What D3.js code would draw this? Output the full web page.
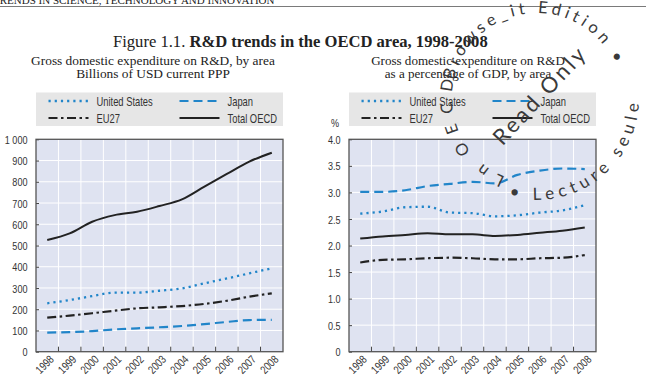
<!DOCTYPE html>
<html>
<head>
<meta charset="utf-8">
<script src="https://cdn.jsdelivr.net/npm/d3@7"></script>
<style>
  body { margin: 0; background: #fff; }
  svg { display: block; }
  .axis text, .legend text, .narrow { font-family: "Liberation Sans", Arial, sans-serif; font-size: 11.5px; fill: #333; }
  .legend text { font-size: 12.5px; }
  .serif { font-family: "Liberation Serif", "DejaVu Serif", serif; fill: #222; }
  .wm { font-family: "Lato", "Open Sans", sans-serif; fill: #3a3a3a; }
</style>
</head>
<body>
<div id="chart"></div>
<script>
var width = 646;
var height = 380;

// data
var years = ["1998", "1999", "2000", "2001", "2002", "2003", "2004", "2005", "2006", "2007", "2008"];
var seriesNames = ["United States", "Japan", "EU27", "Total OECD"];

// billions of USD current PPP
var usBn     = [228, 243, 262, 278, 278, 287, 298, 322, 345, 369, 393];
var japanBn  = [90, 92, 97, 105, 110, 115, 121, 130, 140, 149, 150];
var eu27Bn   = [160, 170, 181, 193, 204, 209, 215, 225, 240, 259, 275];
var oecdBn   = [526, 557, 612, 643, 659, 686, 717, 777, 837, 895, 937];

// percentage of GDP
var usPct    = [2.60, 2.64, 2.72, 2.73, 2.62, 2.61, 2.55, 2.57, 2.62, 2.66, 2.76];
var japanPct = [3.01, 3.01, 3.04, 3.12, 3.16, 3.20, 3.17, 3.33, 3.41, 3.45, 3.44];
var eu27Pct  = [1.68, 1.73, 1.74, 1.76, 1.77, 1.76, 1.74, 1.74, 1.76, 1.77, 1.82];
var oecdPct  = [2.13, 2.17, 2.20, 2.23, 2.21, 2.21, 2.18, 2.20, 2.24, 2.28, 2.34];

var bnTicks  = [0, 100, 200, 300, 400, 500, 600, 700, 800, 900, 1000];
var pctTicks = [0, 0.5, 1.0, 1.5, 2.0, 2.5, 3.0, 3.5, 4.0];

var blue = "#2185c9";
var black = "#222";
var styles = {
  "United States": { color: blue,  dash: "2.2,4",         width: 2.3 },
  "Japan":         { color: blue,  dash: "9,5",           width: 2.2 },
  "EU27":          { color: black, dash: "9,3.5,2.5,3.5", width: 2.2 },
  "Total OECD":    { color: black, dash: null,            width: 2 }
};
// squeeze Arial-like glyphs into a condensed face
var narrowAxis = 0.79;
var narrowLegend = 0.75;

var svg = d3.select("#chart").append("svg")
  .attr("width", width)
  .attr("height", height);

svg.append("rect").attr("width", width).attr("height", height).attr("fill", "#fff");

// shrink/grow font so the text spans a given width
function fit(text, w) {
  var len = text.node().getComputedTextLength();
  var fs = parseFloat(text.attr("font-size"));
  text.attr("font-size", fs * w / len);
}

// running header, cut at the top of the page
svg.append("text").attr("class", "serif")
  .attr("x", -7).attr("y", 4)
  .attr("font-size", 10)
  .attr("fill", "#333")
  .text("TRENDS IN SCIENCE, TECHNOLOGY AND INNOVATION")
  .call(fit, 282);
svg.append("line")
  .attr("x1", 0).attr("x2", width).attr("y1", 6.5).attr("y2", 6.5)
  .attr("stroke", "#7a7a7a").attr("stroke-width", 1);

// figure title
var title = svg.append("text").attr("class", "serif")
  .attr("x", 113).attr("y", 46.5).attr("font-size", 15);
title.append("tspan").text("Figure 1.1.  ");
title.append("tspan").attr("font-weight", "bold").text("R&D trends in the OECD area, 1998-2008");
fit(title, 375);

function drawPanel(opts) {
  var left = opts.left, right = opts.left + 247, top = 139.3, bottom = 351.7;
  var g = svg.append("g");

  // subtitles
  var s1 = g.append("text").attr("class", "serif")
    .attr("x", opts.subX).attr("y", 65).attr("text-anchor", "middle")
    .attr("font-size", 12).text(opts.sub1);
  fit(s1, opts.subW);
  g.append("text").attr("class", "serif")
    .attr("x", opts.subX).attr("y", 78).attr("text-anchor", "middle")
    .attr("font-size", s1.attr("font-size")).text(opts.sub2);

  // legend
  var lg = g.append("g").attr("class", "legend");
  lg.append("rect")
    .attr("x", left).attr("y", 92.5)
    .attr("width", right - left).attr("height", 33.5)
    .attr("fill", "#e6e6e6");
  var spots = [[0, 0], [1, 0], [0, 1], [1, 1]];
  seriesNames.forEach(function(name, i) {
    var cx = left + (spots[i][0] ? 143.5 : 12.5);
    var cy = 101 + spots[i][1] * 17;
    var st = styles[name];
    lg.append("line")
      .attr("x1", cx).attr("x2", cx + 40).attr("y1", cy).attr("y2", cy)
      .attr("stroke", st.color).attr("stroke-width", st.width)
      .attr("stroke-dasharray", st.dash);
    lg.append("text")
      .attr("transform", "translate(" + (cx + 48) + "," + cy + ") scale(" + narrowLegend + ",1)")
      .attr("dy", "0.36em")
      .text(name);
  });

  var x = d3.scaleBand().domain(years).range([left, right]);
  var y = d3.scaleLinear().domain(opts.domain).range([bottom, top]);

  // plot area
  g.append("rect")
    .attr("x", left).attr("y", top)
    .attr("width", right - left).attr("height", bottom - top)
    .attr("fill", "#dfe3f1");

  // grid
  var bounds = years.slice(1).map(function(d) { return x(d); });
  g.selectAll(".vgrid").data(bounds).enter().append("line")
    .attr("x1", function(d) { return d; }).attr("x2", function(d) { return d; })
    .attr("y1", top).attr("y2", bottom)
    .attr("stroke", "#fff").attr("stroke-width", 1);
  g.selectAll(".hgrid").data(opts.ticks.slice(1, -1)).enter().append("line")
    .attr("x1", left).attr("x2", right)
    .attr("y1", function(d) { return y(d); }).attr("y2", function(d) { return y(d); })
    .attr("stroke", "#fff").attr("stroke-width", 1);

  // bottom ticks on the band edges
  g.selectAll(".xtick").data(bounds).enter().append("line")
    .attr("x1", function(d) { return d; }).attr("x2", function(d) { return d; })
    .attr("y1", bottom).attr("y2", bottom - 5)
    .attr("stroke", "#444").attr("stroke-width", 1);

  // y axis
  var yAxis = d3.axisLeft(y).tickValues(opts.ticks).tickFormat(opts.format)
    .tickSizeInner(-3).tickSizeOuter(0).tickPadding(8);
  var ya = g.append("g").attr("class", "axis")
    .attr("transform", "translate(" + left + ",0)")
    .call(yAxis);
  ya.select(".domain").remove();
  ya.selectAll(".tick line").attr("stroke", "#444");
  ya.selectAll(".tick text")
    .attr("x", -8.5 / narrowAxis)
    .attr("dy", "0.36em")
    .attr("transform", "scale(" + narrowAxis + ",1)");

  // x axis labels
  var xAxis = d3.axisBottom(x).tickSize(0).tickPadding(0);
  var xa = g.append("g").attr("class", "axis")
    .attr("transform", "translate(0," + bottom + ")")
    .call(xAxis);
  xa.select(".domain").remove();
  xa.selectAll(".tick text")
    .attr("y", 0).attr("dy", "0.36em")
    .attr("text-anchor", "end")
    .attr("transform", "translate(4.5,5.5) rotate(-45) scale(" + narrowAxis + ",1)");

  // series
  var line = d3.line()
    .x(function(d, i) { return x(years[i]) + x.bandwidth() / 2; })
    .y(function(d) { return y(d); })
    .curve(d3.curveMonotoneX);
  seriesNames.forEach(function(name, i) {
    var st = styles[name];
    g.append("path")
      .datum(opts.series[i])
      .attr("d", line)
      .attr("fill", "none")
      .attr("stroke", st.color)
      .attr("stroke-width", st.width)
      .attr("stroke-dasharray", st.dash);
  });

  // frame
  g.append("rect")
    .attr("x", left).attr("y", top)
    .attr("width", right - left).attr("height", bottom - top)
    .attr("fill", "none").attr("stroke", "#555").attr("stroke-width", 1.3);

  return g;
}

var spaced = d3.formatLocale({ decimal: ".", thousands: " ", grouping: [3], currency: ["", ""] }).format(",");

drawPanel({
  left: 36, domain: [0, 1000], ticks: bnTicks, format: spaced,
  subX: 153, subW: 244,
  sub1: "Gross domestic expenditure on R&D, by area",
  sub2: "Billions of USD current PPP",
  series: [usBn, japanBn, eu27Bn, oecdBn]
});

var rightPanel = drawPanel({
  left: 349, domain: [0, 4], ticks: pctTicks,
  format: function(d) { return d === 0 ? "0" : d3.format(".1f")(d); },
  subX: 468, subW: 194,
  sub1: "Gross domestic expenditure on R&D",
  sub2: "as a percentage of GDP, by area",
  series: [usPct, japanPct, eu27Pct, oecdPct]
});
rightPanel.append("text").attr("class", "narrow")
  .attr("transform", "translate(335,127) scale(" + narrowAxis + ",1)")
  .attr("text-anchor", "middle")
  .text("%");

// "read only" stamp over the right panel
var wmX = 537, wmY = 98;
function ring(r, a0, cw) {
  var p = function(a) {
    var t = a * Math.PI / 180;
    return (wmX + r * Math.cos(t)).toFixed(2) + "," + (wmY + r * Math.sin(t)).toFixed(2);
  };
  var s = cw ? 1 : 0, k = cw ? 1 : -1;
  return "M" + p(a0) + " A" + r + "," + r + " 0 0 " + s + " " + p(a0 + k * 180) +
    " A" + r + "," + r + " 0 0 " + s + " " + p(a0 + k * 359.5);
}
var outerR = 85, innerR = 102;
var defs = svg.append("defs");
defs.append("path").attr("id", "wmOuter").attr("d", ring(outerR, 100, true));
defs.append("path").attr("id", "wmInner").attr("d", ring(innerR, 108, false));

// start of each piece along the ring, in degrees past the ring start
function along(r, deg) { return (r * deg * Math.PI / 180).toFixed(1); }

var wm = svg.append("g").attr("class", "wm");
[
  { txt: "L n", at: 12, size: 16.5, ls: 2.5 },
  { txt: "O E C D", at: 41, size: 16.5, ls: 2.8 },
  { txt: "Browse_it Edition  \u2022", at: 92, size: 16.5, ls: 4 }
].forEach(function(piece) {
  wm.append("text").attr("font-size", piece.size).attr("letter-spacing", piece.ls)
    .append("textPath").attr("href", "#wmOuter")
    .attr("startOffset", along(outerR, piece.at))
    .text(piece.txt);
});
wm.append("text").attr("font-size", 17).attr("letter-spacing", 5)
  .append("textPath").attr("href", "#wmInner")
  .attr("startOffset", along(innerR, 2))
  .text("\u2022 Lecture seule");
wm.append("text")
  .attr("transform", "translate(540,95) rotate(-47)")
  .attr("text-anchor", "middle").attr("dy", "0.35em")
  .attr("font-size", 22).attr("letter-spacing", 3)
  .text("Read Only");
</script>
</body>
</html>
